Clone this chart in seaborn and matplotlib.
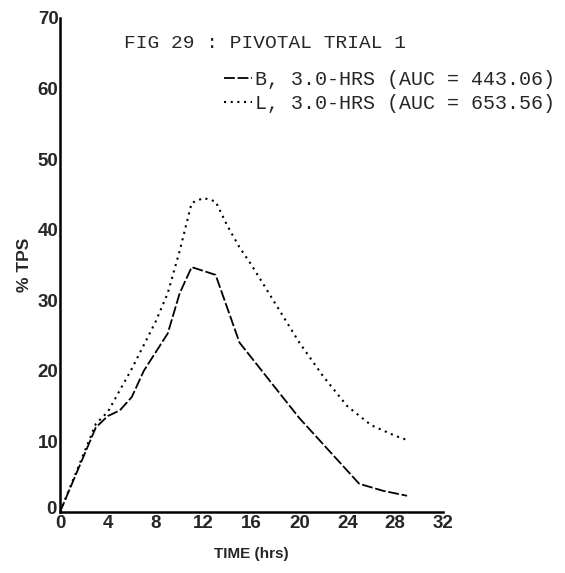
import pandas as pd
import matplotlib
matplotlib.use("Agg")
import matplotlib.pyplot as plt
import matplotlib.transforms as mtransforms
from matplotlib.lines import Line2D
import seaborn as sns

# data
b_hours = [0, 3, 4, 5, 6, 7, 9, 10, 11, 13, 15, 20, 25, 27, 29]
b_tps = [0, 12.0, 13.6, 14.4, 16.3, 20.0, 25.3, 31.0, 34.7, 33.6, 24.0, 13.3, 4.0, 3.0, 2.3]

l_hours = [0, 3, 4, 6, 8, 9, 10, 11, 12, 13, 14, 15, 16, 18, 20, 22, 24, 26, 28, 29]
l_tps = [0, 12.5, 14.2, 20.3, 27.0, 31.0, 37.0, 43.8, 44.5, 44.0, 40.5, 37.5, 35.0, 29.5, 24.0, 19.2, 15.0, 12.3, 10.8, 10.2]

labels = ["B, 3.0-HRS (AUC = 443.06)", "L, 3.0-HRS (AUC = 653.56)"]
x_ticks = [0, 4, 8, 12, 16, 20, 24, 28, 32]
y_ticks = [0, 10, 20, 30, 40, 50, 60, 70]

df_b = pd.DataFrame({"hours": b_hours, "tps": b_tps})
df_l = pd.DataFrame({"hours": l_hours, "tps": l_tps})

sns.set_style("white")
plt.rcParams["font.family"] = ["Liberation Sans", "DejaVu Sans"]

fig = plt.figure(figsize=(5.65, 5.73), dpi=100)
ax = fig.add_axes([60 / 565, 1 - 512 / 573, 383 / 565, 494 / 573])

sns.lineplot(data=df_b, x="hours", y="tps", ax=ax, color="black", lw=1.3,
             linestyle=(0, (6, 1.5)))
sns.lineplot(data=df_l, x="hours", y="tps", ax=ax, color="black", lw=1.5,
             linestyle=(0, (1, 2.2)))

ax.set_xlim(0, 32)
ax.set_ylim(0, 70)
ax.set_xticks(x_ticks)
ax.set_yticks(y_ticks)
ax.tick_params(direction="in", length=4, width=1, labelsize=13.5)
ax.tick_params(axis="y", pad=1)
ax.tick_params(axis="x", pad=2)
for t in ax.get_xticklabels() + ax.get_yticklabels():
    t.set_fontweight("bold")

# the two zeros meet at the corner; lift the y one a little as in the scan
ylab0 = ax.get_yticklabels()[0]
ylab0.set_transform(ylab0.get_transform() +
                    mtransforms.ScaledTranslation(-2 / 100, 5 / 100, fig.dpi_scale_trans))

sns.despine(ax=ax)
for s in ["left", "bottom"]:
    ax.spines[s].set_linewidth(1.8)
    ax.spines[s].set_color("black")

ax.set_xlabel("TIME (hrs)", fontsize=11, fontweight="bold", labelpad=11)
ax.set_ylabel("% TPS", fontsize=12.5, fontweight="bold", labelpad=4)

fig.text(124 / 565, 1 - 43 / 573, "FIG 29 : PIVOTAL TRIAL 1",
         family="Liberation Mono", fontsize=14, va="center", ha="left")

handles = [Line2D([], [], color="black", lw=1.3, linestyle=(0, (6, 1.5))),
           Line2D([], [], color="black", lw=1.5, linestyle=(0, (1, 2.2)))]
ax.legend(handles, labels, loc="upper left", bbox_to_anchor=(214 / 565, 1 - 60 / 573),
          bbox_transform=fig.transFigure, frameon=False, handlelength=1.4,
          handletextpad=0.15, labelspacing=0.25, borderpad=0,
          prop={"family": "Liberation Mono", "size": 14.4})

fig.savefig("out.png", dpi=100)
